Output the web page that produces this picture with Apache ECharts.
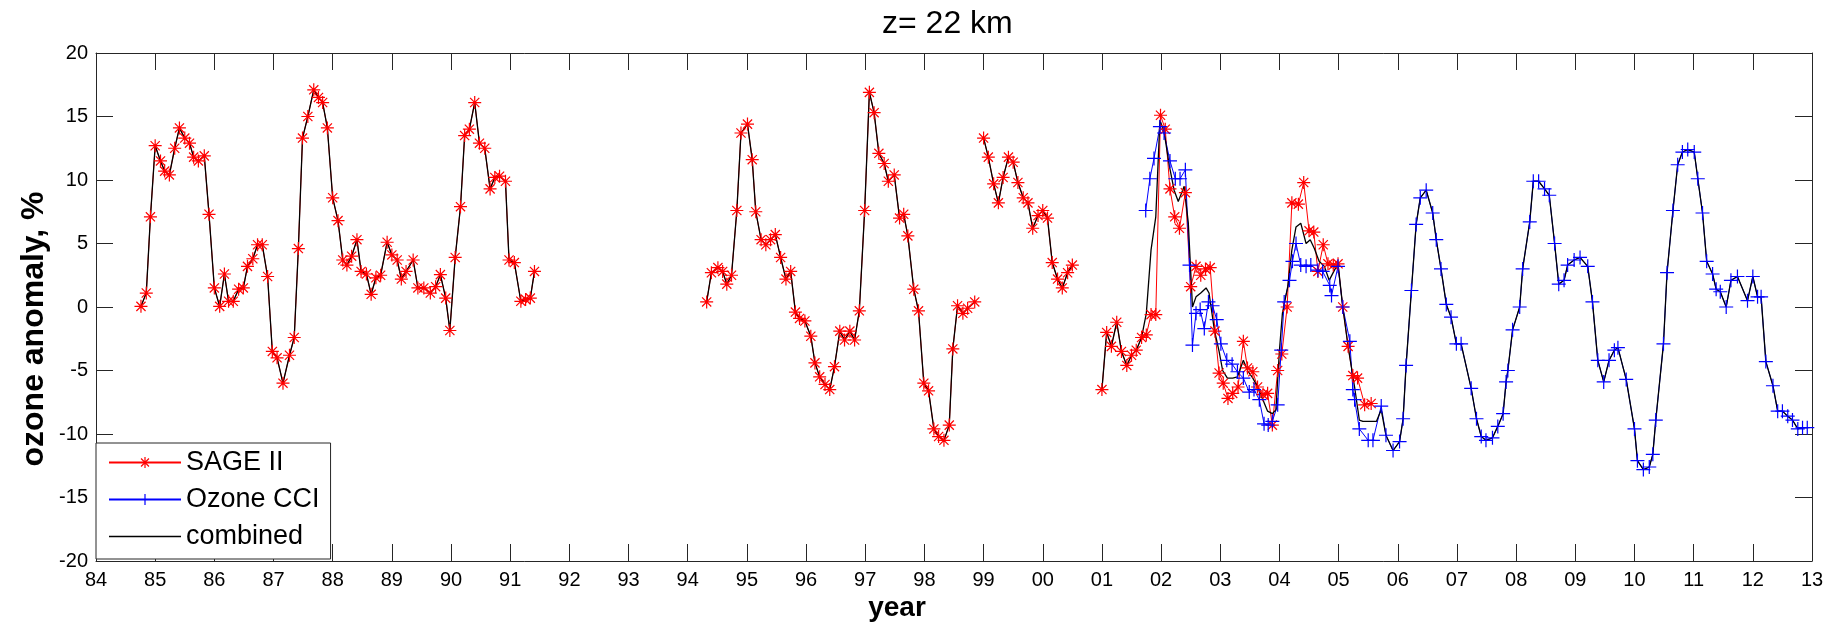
<!DOCTYPE html>
<html>
<head>
<meta charset="utf-8">
<script src="https://cdn.jsdelivr.net/npm/echarts@6/dist/echarts.min.js"></script>
<style>
html,body{margin:0;padding:0;background:#fff;}
#chart{width:1837px;height:634px;}
</style>
</head>
<body>
<div id="chart"></div>
<script>
// ---------------- data ----------------
// SAGE II: decimal year / anomaly %, null = data gap
const sageYear = [
1984.76,1984.85,1984.92,1985.00,1985.09,1985.16,1985.24,1985.33,1985.41,1985.50,1985.58,1985.65,1985.73,1985.83,1985.91,
1986.00,1986.09,1986.17,1986.24,1986.32,1986.41,1986.49,1986.56,1986.65,1986.73,1986.81,1986.90,1986.98,
1987.06,1987.16,1987.27,1987.35,1987.42,1987.49,1987.58,1987.68,1987.76,1987.83,1987.91,
1988.00,1988.09,1988.17,1988.24,1988.32,1988.41,1988.48,1988.57,1988.65,1988.73,1988.81,1988.92,
1989.00,1989.09,1989.16,1989.24,1989.36,1989.44,1989.54,1989.65,1989.74,1989.82,1989.91,1989.98,
1990.07,1990.16,1990.23,1990.31,1990.40,1990.48,1990.57,1990.66,1990.74,1990.82,1990.92,1990.98,
1991.07,1991.18,1991.26,1991.34,1991.41,
1992.80,
1994.32,1994.40,1994.51,1994.59,1994.66,1994.74,1994.83,1994.90,
1995.01,1995.09,1995.15,1995.24,1995.32,1995.40,1995.48,1995.57,1995.66,1995.74,1995.82,1995.89,1995.98,
1996.08,1996.15,1996.23,1996.32,1996.40,1996.48,1996.57,1996.65,1996.74,1996.82,1996.90,1996.99,
1997.07,1997.15,1997.23,1997.32,1997.39,1997.49,1997.58,1997.65,1997.72,1997.82,1997.90,1997.99,
1998.07,1998.16,1998.24,1998.33,1998.42,1998.48,1998.56,1998.65,1998.73,1998.85,
1998.93,
1999.00,1999.08,1999.17,1999.25,1999.33,1999.42,1999.50,1999.58,1999.67,1999.75,1999.83,1999.92,
2000.00,2000.08,2000.16,2000.25,2000.33,2000.42,2000.50,
2000.75,
2001.00,2001.08,2001.16,2001.25,2001.33,2001.42,2001.50,2001.58,2001.67,2001.75,2001.83,2001.91,
2001.99,2002.07,2002.15,2002.23,2002.31,2002.41,2002.50,2002.59,2002.67,2002.75,2002.83,2002.91,
2002.98,2003.05,2003.13,2003.21,2003.30,2003.39,2003.46,2003.55,2003.63,2003.72,2003.80,2003.88,
2003.97,2004.04,2004.13,2004.21,2004.32,2004.41,2004.50,2004.58,2004.65,2004.74,2004.82,2004.91,
2004.99,2005.07,2005.16,2005.24,2005.32,2005.44,2005.55
];
const sageVal = [
0.05,1.1,7.1,12.7,11.5,10.7,10.4,12.5,14.1,13.3,12.9,11.8,11.5,11.9,7.3,
1.5,0.05,2.6,0.45,0.45,1.4,1.5,3.2,3.8,4.9,4.9,2.4,-3.5,
-4.0,-6.0,-3.8,-2.4,4.6,13.3,15.0,17.1,16.5,16.1,14.1,
8.6,6.8,3.7,3.3,4.0,5.3,2.8,2.6,1.0,2.3,2.5,5.1,
4.1,3.7,2.2,2.8,3.7,1.5,1.5,1.1,1.6,2.55,0.7,-1.85,
3.9,7.9,13.5,14.0,16.1,12.9,12.5,9.3,10.2,10.3,9.9,3.7,
3.5,0.45,0.6,0.7,2.8,
null,
0.4,2.7,3.1,2.8,1.8,2.5,7.6,13.7,
14.4,11.6,7.5,5.3,4.9,5.3,5.7,3.9,2.2,2.8,-0.4,-0.9,-1.1,
-2.3,-4.4,-5.5,-6.1,-6.5,-4.7,-1.9,-2.6,-1.9,-2.6,-0.3,7.6,
16.9,15.3,12.1,11.3,9.9,10.4,7.0,7.3,5.6,1.4,-0.3,-6.0,
-6.6,-9.6,-10.2,-10.5,-9.3,-3.3,0.1,-0.5,-0.1,0.4,
null,
13.3,11.8,9.7,8.2,10.2,11.8,11.4,9.8,8.6,8.2,6.2,7.2,
7.6,7.0,3.5,2.2,1.5,2.7,3.3,
null,
-6.5,-2.0,-3.1,-1.2,-3.5,-4.6,-3.8,-3.4,-2.4,-2.2,-0.6,-0.6,
15.1,14.0,9.3,7.1,6.2,9.0,1.6,3.2,2.5,3.0,3.1,-1.9,
-5.2,-6.0,-7.2,-6.8,-6.3,-2.7,-4.8,-5.1,-6.3,-6.9,-6.8,-9.3,
-5.0,-3.7,0.0,8.2,8.1,9.8,6.0,5.9,2.8,4.9,3.4,3.3,
3.4,0.0,-3.1,-5.4,-5.6,-7.7,-7.6
];

// Ozone CCI
const cciYear = [
2001.74,2001.81,2001.88,2001.98,2002.05,2002.15,2002.24,2002.32,2002.41,2002.48,2002.53,2002.59,
2002.66,2002.73,2002.80,2002.87,2002.94,2003.01,2003.11,2003.20,2003.29,2003.39,2003.49,2003.57,
2003.66,2003.74,2003.81,2003.88,2003.97,2004.03,2004.08,2004.17,2004.22,2004.28,2004.36,2004.45,
2004.53,2004.65,2004.73,2004.85,2004.88,2004.99,2005.07,2005.19,2005.24,2005.27,2005.35,2005.50,
2005.58,2005.72,2005.80,2005.92,2006.03,2006.09,2006.14,2006.23,2006.31,2006.38,2006.48,2006.59,
2006.65,2006.73,2006.82,2006.90,2006.99,2007.07,2007.24,2007.33,2007.41,2007.49,2007.60,2007.69,
2007.78,2007.83,2007.86,2007.94,2008.06,2008.11,2008.23,2008.29,2008.38,2008.48,2008.56,2008.65,
2008.72,2008.81,2008.87,2008.98,2009.08,2009.21,2009.29,2009.38,2009.48,2009.57,2009.66,2009.72,
2009.86,2010.00,2010.05,2010.15,2010.25,2010.31,2010.36,2010.49,2010.55,2010.65,2010.73,2010.81,
2010.90,2011.01,2011.07,2011.15,2011.22,2011.32,2011.38,2011.45,2011.55,2011.63,2011.74,2011.91,
2012.00,2012.08,2012.14,2012.22,2012.34,2012.42,2012.50,2012.59,2012.67,2012.76,2012.84,2012.92
];
const cciVal = [
7.6,10.1,11.7,14.2,13.7,11.5,10.1,10.1,10.8,3.3,-3.0,-0.5,
-0.2,-1.7,0.4,0.1,-1.0,-2.9,-4.2,-4.5,-5.1,-5.6,-6.7,-6.5,
-7.3,-9.2,-9.3,-9.0,-7.7,-3.4,0.4,2.1,3.6,5.0,3.3,3.2,
3.3,2.9,2.8,1.7,0.9,3.2,0.0,-2.7,-6.5,-7.3,-9.6,-10.5,
-10.5,-7.8,-10.1,-11.3,-10.6,-8.8,-4.6,1.3,6.5,8.6,9.2,7.4,
5.3,3.0,0.2,-0.8,-2.9,-2.9,-6.4,-8.8,-10.2,-10.5,-10.3,-9.4,
-8.4,-5.9,-5.0,-1.8,0.0,3.0,6.7,9.9,9.9,9.3,8.8,5.0,
1.8,2.1,3.3,3.7,3.9,3.2,0.4,-4.2,-5.9,-4.2,-3.4,-3.2,
-5.7,-9.6,-12.1,-12.8,-12.6,-11.6,-8.9,-2.9,2.7,7.6,11.2,12.2,
12.4,12.2,10.1,7.4,3.6,2.6,1.4,1.2,0.0,2.1,2.4,0.5,
2.4,0.8,0.8,-4.3,-6.2,-8.2,-8.2,-8.6,-8.9,-9.6,-9.5,-9.5
];

// combined series where both instruments overlap (outside it, combined follows SAGE II before / Ozone CCI after)
const combYear = [
2001.75,2001.83,2001.91,2001.98,2002.05,2002.14,2002.22,2002.29,2002.39,2002.46,2002.53,2002.59,
2002.67,2002.76,2002.81,2002.90,2002.98,2003.04,2003.12,2003.21,2003.29,2003.39,2003.46,2003.55,
2003.63,2003.72,2003.80,2003.88,2003.94,2004.00,2004.05,2004.14,2004.21,2004.28,2004.36,2004.45,
2004.52,2004.59,2004.67,2004.76,2004.84,2004.93,2004.99,2005.07,2005.16,2005.27,2005.35,2005.41,
2005.52,2005.64,2005.72
];
const combVal = [
-0.5,4.5,7.1,14.7,13.8,11.1,9.2,8.3,9.5,6.6,0.0,0.8,
1.1,1.5,1.1,-1.8,-3.5,-5.0,-5.6,-5.6,-5.5,-4.2,-5.0,-5.6,
-6.3,-7.3,-8.2,-8.4,-8.1,-3.4,-0.5,1.6,4.5,6.3,6.6,5.0,
5.3,4.6,3.6,3.2,2.1,2.9,3.4,0.0,-3.1,-6.3,-8.9,-9.0,
-9.0,-9.0,-8.1
];
const combStart = 2001.72;   // overlap period boundaries
const combEnd = 2005.76;

const seriesNames = ['SAGE II', 'Ozone CCI', 'combined'];
const yearTicks = {min: 1984, max: 2013, step: 1};
const valueTicks = {min: -20, max: 20, step: 5};

// ---------------- build ----------------
const pair = (xs, ys) => xs.map((x, i) => [x, ys[i] === null ? '-' : ys[i]]);
const sageData = pair(sageYear, sageVal);
const cciData = pair(cciYear, cciVal);
const combData = []
  .concat(sageData.filter(p => p[0] < combStart))
  .concat(pair(combYear, combVal))
  .concat(cciData.filter(p => p[0] > combEnd));

const FONT = "'Liberation Sans', Arial, sans-serif";
const AX = '#262626';
const STAR = 'path://M0,6L12,6M6,0L6,12M1.76,1.76L10.24,10.24M10.24,1.76L1.76,10.24';
const PLUS = 'path://M0,6L12,6M6,0L6,12';

const chart = echarts.init(document.getElementById('chart'), null, {renderer: 'canvas'});

const baseX = {
  type: 'value', min: yearTicks.min, max: yearTicks.max, interval: yearTicks.step,
  splitLine: {show: false},
  axisLine: {show: true, onZero: false, lineStyle: {color: AX, width: 1}},
  axisTick: {show: true, inside: true, length: 17, lineStyle: {color: AX, width: 1}}
};
const baseY = {
  type: 'value', min: valueTicks.min, max: valueTicks.max, interval: valueTicks.step,
  splitLine: {show: false},
  axisLine: {show: true, onZero: false, lineStyle: {color: AX, width: 1}},
  axisTick: {show: true, inside: true, length: 17, lineStyle: {color: AX, width: 1}}
};

chart.setOption({
  animation: false,
  backgroundColor: '#fff',
  textStyle: {fontFamily: FONT},
  title: {
    text: 'z= 22 km', left: 882, top: 8, padding: 0,
    textStyle: {fontFamily: FONT, fontSize: 32, fontWeight: 'normal', color: '#000'}
  },
  grid: {left: 96, right: 25, top: 53, bottom: 73, containLabel: false},
  xAxis: [
    Object.assign({}, baseX, {
      position: 'bottom',
      axisLabel: {show: true, margin: 9, fontSize: 20, color: '#000', fontFamily: FONT,
        formatter: v => String(Math.round(v) % 100).padStart(2, '0')}
    }),
    Object.assign({}, baseX, {position: 'top', axisLabel: {show: false}})
  ],
  yAxis: [
    Object.assign({}, baseY, {
      position: 'left',
      axisLabel: {show: true, margin: 8, fontSize: 20, color: '#000', fontFamily: FONT}
    }),
    Object.assign({}, baseY, {position: 'right', axisLabel: {show: false}})
  ],
  legend: {
    orient: 'vertical', left: 96, top: 443,
    padding: [6, 11, 9, 12], itemGap: 10,
    itemWidth: 72, itemHeight: 14,
    backgroundColor: '#fff', borderColor: AX, borderWidth: 1,
    textStyle: {fontSize: 27, color: '#000', fontFamily: FONT},
    data: [
      {name: seriesNames[0], itemStyle: {color: 'red', borderColor: 'red', borderWidth: 1.2}},
      {name: seriesNames[1], itemStyle: {color: 'blue', borderColor: 'blue', borderWidth: 1.2}},
      {name: seriesNames[2], icon: 'path://M0,0L72,0L72,1.3L0,1.3Z', itemStyle: {color: '#000'}}
    ]
  },
  graphic: [
    {type: 'text', x: 897, y: 608,
      style: {text: 'year', font: "bold 28px 'Liberation Sans', Arial, sans-serif", fill: '#000',
        textAlign: 'center', textVerticalAlign: 'middle'}},
    {type: 'text', x: 34, y: 329, rotation: Math.PI / 2,
      style: {text: 'ozone anomaly, %', font: "bold 32px 'Liberation Sans', Arial, sans-serif", fill: '#000',
        textAlign: 'center', textVerticalAlign: 'middle'}}
  ],
  series: [
    {
      name: seriesNames[0], type: 'line', data: sageData, xAxisIndex: 0, yAxisIndex: 0,
      symbol: STAR, symbolSize: 13, showSymbol: true, connectNulls: false,
      lineStyle: {color: 'red', width: 1},
      itemStyle: {color: 'red', borderColor: 'red', borderWidth: 1.2},
      emphasis: {disabled: true}
    },
    {
      name: seriesNames[1], type: 'line', data: cciData, xAxisIndex: 0, yAxisIndex: 0,
      symbol: PLUS, symbolSize: 14, showSymbol: true, connectNulls: false,
      lineStyle: {color: 'blue', width: 1},
      itemStyle: {color: 'blue', borderColor: 'blue', borderWidth: 1.2},
      emphasis: {disabled: true}
    },
    {
      name: seriesNames[2], type: 'line', data: combData, xAxisIndex: 0, yAxisIndex: 0,
      symbol: 'none', connectNulls: false,
      lineStyle: {color: '#000', width: 1.3},
      itemStyle: {color: '#000'},
      emphasis: {disabled: true}
    }
  ]
});
</script>
</body>
</html>
